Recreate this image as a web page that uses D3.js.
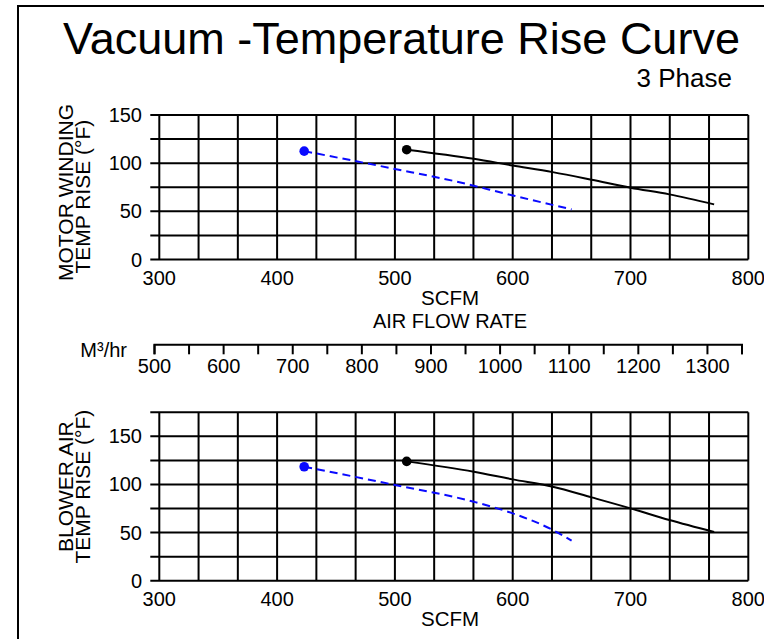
<!DOCTYPE html>
<html>
<head>
<meta charset="utf-8" />
<title>Vacuum - Temperature Rise Curve</title>
<script src="https://cdn.jsdelivr.net/npm/d3@7"></script>
<style>
    body { margin: 0; background: #fff; }
    svg { display: block; }
    text { font-family: "Liberation Sans", Arial, sans-serif; fill: #000; }
</style>
</head>
<body>
<div id="chart"></div>
<script>
// data (SCFM, temp rise in F)
var motorBlueScfm  = [423, 500, 550, 600, 650];
var motorBlueRise  = [112.5, 94, 81.5, 66.5, 52];
var motorBlackScfm = [510, 567, 600, 634, 667, 700, 733, 771];
var motorBlackRise = [114, 104.5, 97.6, 90.7, 82.8, 74.5, 67.6, 57.2];

var blowerBlueScfm  = [423, 500, 567, 600, 634, 650];
var blowerBlueRise  = [118.4, 99.5, 82, 70, 52.7, 41.6];
var blowerBlackScfm = [510, 567, 600, 634, 667, 700, 733, 771];
var blowerBlackRise = [124, 113.2, 105.3, 97.7, 86.6, 75.2, 63, 50.6];

var scfmTicks = [300, 400, 500, 600, 700, 800];
var riseTicks = [0, 50, 100, 150];
var m3Ticks = [500, 600, 700, 800, 900, 1000, 1100, 1200, 1300];

var W = 764, H = 639;
var font = '"Liberation Sans", Arial, sans-serif';

var svg = d3.select("#chart").append("svg")
    .attr("width", W).attr("height", H);

// outer frame (runs off right / bottom)
svg.append("rect")
    .attr("x", 18).attr("y", 6)
    .attr("width", 900).attr("height", 900)
    .attr("fill", "none").attr("stroke", "#000").attr("stroke-width", 2);

svg.append("text")
    .attr("x", 63).attr("y", 54)
    .style("font-size", "45px")
    .text("Vacuum -Temperature Rise Curve");

svg.append("text")
    .attr("x", 732).attr("y", 87)
    .attr("text-anchor", "end")
    .style("font-size", "26px")
    .text("3 Phase");

var x = d3.scaleLinear().domain([300, 800]).range([159.3, 748.3]);

function panel(yTop, yBottom, yMax, label1, label2, c1, c2, blue, black) {
    var y = d3.scaleLinear().domain([0, yMax]).range([yBottom, yTop]);
    var g = svg.append("g");

    // grid: vertical every 33.3 scfm, horizontal every 25
    g.selectAll("line.v").data(d3.range(0, 16)).enter().append("line")
        .attr("x1", d => x(300 + d * 100 / 3)).attr("x2", d => x(300 + d * 100 / 3))
        .attr("y1", y(yMax)).attr("y2", y(0))
        .attr("stroke", "#000").attr("stroke-width", 2);
    g.selectAll("line.h").data(d3.range(0, yMax + 1, 25)).enter().append("line")
        .attr("x1", x(300) - 9).attr("x2", x(800))
        .attr("y1", d => y(d)).attr("y2", d => y(d))
        .attr("stroke", "#000").attr("stroke-width", 2);

    // tick labels
    g.selectAll("text.y").data(riseTicks).enter().append("text")
        .attr("x", 142).attr("y", d => y(d) + 7)
        .attr("text-anchor", "end").style("font-size", "20px")
        .text(d => d);
    g.selectAll("text.x").data(scfmTicks).enter().append("text")
        .attr("x", d => x(d)).attr("y", y(0) + 25)
        .attr("text-anchor", "middle").style("font-size", "20px")
        .text(d => d);

    g.append("text")
        .attr("x", 450).attr("y", y(0) + 45)
        .attr("text-anchor", "middle").style("font-size", "20.5px")
        .text("SCFM");

    // y titles
    g.append("text")
        .attr("transform", "translate(73," + c1 + ") rotate(-90)")
        .attr("text-anchor", "middle").style("font-size", "21px")
        .text(label1);
    g.append("text")
        .attr("transform", "translate(90," + c2 + ") rotate(-90)")
        .attr("text-anchor", "middle").style("font-size", "21px")
        .text(label2);

    var line = d3.line()
        .x(d => x(d[0])).y(d => y(d[1]))
        .curve(d3.curveMonotoneX);

    g.append("path").datum(d3.zip(blue[0], blue[1]))
        .attr("d", line).attr("fill", "none")
        .attr("stroke", "#0a0aff").attr("stroke-width", 2)
        .attr("stroke-dasharray", "8,5");
    g.append("path").datum(d3.zip(black[0], black[1]))
        .attr("d", line).attr("fill", "none")
        .attr("stroke", "#000").attr("stroke-width", 2);

    g.append("circle")
        .attr("cx", x(blue[0][0])).attr("cy", y(blue[1][0])).attr("r", 4.8)
        .attr("fill", "#0a0aff");
    g.append("circle")
        .attr("cx", x(black[0][0])).attr("cy", y(black[1][0])).attr("r", 4.8)
        .attr("fill", "#000");
}

panel(115, 259.5, 150, "MOTOR WINDING", "TEMP RISE (°F)", 192.5, 196.7,
    [motorBlueScfm, motorBlueRise], [motorBlackScfm, motorBlackRise]);
panel(412.3, 580.7, 175, "BLOWER AIR", "TEMP RISE (°F)", 486.7, 486.7,
    [blowerBlueScfm, blowerBlueRise], [blowerBlackScfm, blowerBlackRise]);

svg.append("text")
    .attr("x", 450).attr("y", 328)
    .attr("text-anchor", "middle").style("font-size", "20px")
    .text("AIR FLOW RATE");

// metric flow axis
var m3 = d3.scaleLinear().domain([500, 1350]).range([154, 741.5]);
var m3Axis = d3.axisBottom(m3)
    .tickValues(d3.range(500, 1351, 50))
    .tickSize(10)
    .tickPadding(5)
    .tickFormat(d => m3Ticks.indexOf(d) >= 0 ? d : "");
var ag = svg.append("g")
    .attr("transform", "translate(0,344.3)")
    .call(m3Axis);
ag.selectAll("path, line").attr("stroke", "#000").attr("stroke-width", 2);
ag.selectAll("text").style("font-size", "20px").style("font-family", font).attr("fill", "#000");

svg.append("text")
    .attr("x", 127).attr("y", 357)
    .attr("text-anchor", "end").style("font-size", "20px")
    .text("M³/hr");
</script>
</body>
</html>
